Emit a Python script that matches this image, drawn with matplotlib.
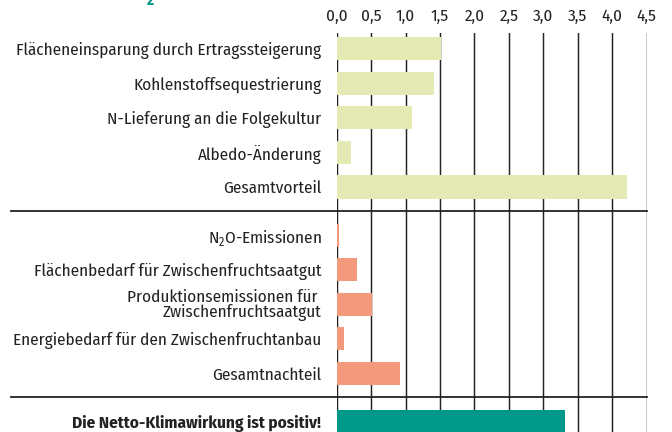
import matplotlib
matplotlib.use("Agg")
import matplotlib.pyplot as plt
from matplotlib import font_manager as fm

# ---- data ----
vorteil_labels = ["Flächeneinsparung durch Ertragssteigerung",
                  "Kohlenstoffsequestrierung",
                  "N-Lieferung an die Folgekultur",
                  "Albedo-Änderung",
                  "Gesamtvorteil"]
vorteil_values = [1.52, 1.41, 1.09, 0.21, 4.21]

nachteil_labels = ["N$_\\mathregular{2}$O-Emissionen",
                   "Flächenbedarf für Zwischenfruchtsaatgut",
                   "Produktionsemissionen für \nZwischenfruchtsaatgut",
                   "Energiebedarf für den Zwischenfruchtanbau",
                   "Gesamtnachteil"]
nachteil_values = [0.035, 0.30, 0.51, 0.10, 0.92]

netto_label = "Die Netto-Klimawirkung ist positiv!"
netto_value = 3.32

xticks = [0.0, 0.5, 1.0, 1.5, 2.0, 2.5, 3.0, 3.5, 4.0, 4.5]
xticklabels = ["0,0", "0,5", "1,0", "1,5", "2,0", "2,5", "3,0", "3,5", "4,0", "4,5"]

# ---- style ----
fam = "Fira Sans Condensed"
plt.rcParams["font.family"] = [fam, "DejaVu Sans"]
plt.rcParams["mathtext.fontset"] = "custom"
plt.rcParams["mathtext.rm"] = fam

c_green = "#E5EAB4"
c_salmon = "#F3997C"
c_teal = "#009888"
c_grid = "#222222"
fs = 12.3

fig = plt.figure(figsize=(6.72, 4.32), dpi=100)
ax = fig.add_axes([336.7 / 672, 0.0, (646.7 - 336.7) / 672, 1 - 33 / 432])

h = 0.67
pos_v = [0, 1, 2, 3, 4]
pos_n = [5.4, 6.4, 7.4, 8.4, 9.4]
pos_t = 10.8
sep1, sep2 = 4.7, 10.1

ax.barh(pos_v, vorteil_values, height=h, color=c_green, zorder=2)
ax.barh(pos_n, nachteil_values, height=h, color=c_salmon, zorder=2)
ax.barh([pos_t], [netto_value], height=h, color=c_teal, zorder=2)

ax.set_xlim(0, 4.5)
ax.set_ylim(11.1, -0.46)

for x in xticks:
    ax.axvline(x, color=c_grid, lw=1.05, zorder=1)

for s in ax.spines.values():
    s.set_visible(False)

ax.xaxis.tick_top()
ax.set_xticks(xticks)
ax.set_xticklabels(xticklabels, fontsize=fs, color="#222222")
ax.tick_params(axis="x", length=0, pad=6)

ax.set_yticks(pos_v + pos_n + [pos_t])
ax.set_yticklabels(vorteil_labels + nachteil_labels + [netto_label],
                   fontsize=fs, color="#222222", linespacing=0.9)
ax.tick_params(axis="y", length=0, pad=11)
ax.get_yticklabels()[-1].set_fontweight("bold")

# separator lines extending into label area
for s in (sep1, sep2):
    y_fig = ax.transData.transform((0, s))[1]
    fig.add_artist(plt.Line2D([11 / 672, 646.7 / 672],
                              [y_fig / fig.bbox.height] * 2,
                              color=c_grid, lw=1.3))

# cut-off title fragment
fig.text(150 / 672, 1.0, "2", color=c_teal, fontsize=11, fontweight="bold",
         ha="center", va="center")

fig.savefig("out.png", dpi=100)
